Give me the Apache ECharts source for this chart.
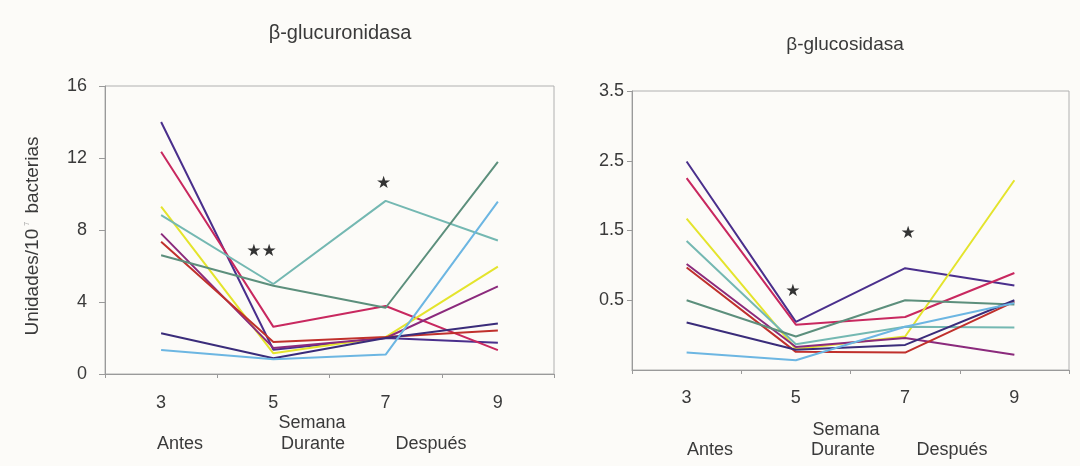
<!DOCTYPE html>
<html>
<head>
<meta charset="utf-8">
<script src="https://cdn.jsdelivr.net/npm/echarts@6/dist/echarts.min.js"></script>
<style>
  html, body { margin: 0; padding: 0; background: #fcfbf8; }
  #chart { width: 1080px; height: 466px; }
</style>
</head>
<body>
<div id="chart"></div>
<script>
// ---- data ----
const categories = ['3', '5', '7', '9'];
const leftTitle = 'β-glucuronidasa';
const rightTitle = 'β-glucosidasa';
const leftYTicks = [0, 4, 8, 12, 16];
const rightYTicks = [0.5, 1.5, 2.5, 3.5];

// β-glucuronidasa (left panel), one array per subject
const gucA = [14.0, 1.35, 2.0, 1.74];
const gucB = [12.35, 2.62, 3.78, 1.33];
const gucC = [9.3, 1.15, 2.05, 5.96];
const gucD = [8.83, 5.0, 9.62, 7.42];
const gucE = [7.8, 1.45, 2.0, 4.87];
const gucF = [7.35, 1.78, 2.05, 2.42];
const gucG = [6.6, 4.9, 3.68, 11.78];
const gucH = [2.26, 0.87, 2.0, 2.8];
const gucI = [1.33, 0.82, 1.08, 9.58];

// β-glucosidasa (right panel)
const glsA = [2.49, 0.19, 0.96, 0.71];
const glsB = [2.25, 0.15, 0.26, 0.89];
const glsC = [1.67, -0.2, -0.02, 2.22];
const glsD = [1.35, -0.13, 0.12, 0.11];
const glsE = [1.02, -0.17, -0.04, -0.28];
const glsF = [0.97, -0.24, -0.25, 0.48];
const glsG = [0.5, -0.02, 0.5, 0.44];
const glsH = [0.18, -0.21, -0.14, 0.5];
const glsI = [-0.25, -0.36, 0.12, 0.46];

// significance marks [category, value, text]
const starsLeft = [['5', 6.78, '★★'], ['7', 10.56, '★']];
const starsRight = [['5', 0.62, '★'], ['7', 1.46, '★']];

const leftSeries = [gucA, gucB, gucC, gucD, gucE, gucF, gucG, gucH, gucI];
const rightSeries = [glsA, glsB, glsC, glsD, glsE, glsF, glsG, glsH, glsI];

// ---- styles ----
const colors = ['#4a2f8c', '#c8285f', '#e4e42c', '#74b8b2', '#8b2a7c', '#c0302c', '#5c8f7c', '#3a2c7a', '#6cb6e2'];
const FONT = '"Liberation Sans", Arial, sans-serif';
const TXT = '#3a3a3a';
const AX = '#9a9a9a';

function makeSeries(arrs, idx, stars, starOffsets) {
  return arrs.map((d, i) => {
    const s = {
      type: 'line',
      xAxisIndex: idx,
      yAxisIndex: idx,
      data: d,
      symbol: 'none',
      color: colors[i],
      lineStyle: { width: 2, color: colors[i] },
      z: 2,
      silent: true
    };
    if (i === 0) {
      s.markPoint = {
        silent: true,
        symbol: 'circle',
        symbolSize: 1,
        itemStyle: { color: 'rgba(0,0,0,0)' },
        data: stars.map((st, k) => ({
          coord: [st[0], st[1]],
          label: {
            show: true,
            formatter: st[2],
            color: '#333',
            fontSize: 17,
            fontFamily: 'DejaVu Sans',
            position: 'inside',
            offset: starOffsets[k]
          }
        }))
      };
    }
    return s;
  });
}

function xAxisCfg(gi) {
  return {
    type: 'category',
    gridIndex: gi,
    data: categories,
    boundaryGap: true,
    axisLine: { onZero: false, lineStyle: { color: AX, width: 1 } },
    axisTick: { show: true, length: 4, lineStyle: { color: AX } },
    axisLabel: { color: TXT, fontSize: 18, fontFamily: FONT, margin: gi === 0 ? 20 : 19 }
  };
}

const chart = echarts.init(document.getElementById('chart'), null, { renderer: 'canvas' });

const T = (x, y, text, size) => ({
  type: 'text', x: x, y: y,
  style: { text: text, fill: TXT, font: size + 'px ' + FONT, textAlign: 'center', textVerticalAlign: 'middle' }
});

const option = {
  backgroundColor: '#fcfbf8',
  animation: false,
  grid: [
    { left: 105, top: 86, width: 449, height: 288, show: true, borderColor: '#b0b0b0', borderWidth: 1, backgroundColor: 'transparent' },
    { left: 632, top: 91, width: 437, height: 279, show: true, borderColor: '#b0b0b0', borderWidth: 1, backgroundColor: 'transparent' }
  ],
  xAxis: [xAxisCfg(0), xAxisCfg(1)],
  yAxis: [
    {
      type: 'value', gridIndex: 0, min: leftYTicks[0], max: leftYTicks[leftYTicks.length - 1], interval: 4,
      splitLine: { show: false },
      axisLine: { show: true, onZero: false, lineStyle: { color: AX } },
      axisTick: { show: true, length: 6, lineStyle: { color: AX } },
      axisLabel: { color: TXT, fontSize: 18, fontFamily: FONT, margin: 18 }
    },
    {
      type: 'value', gridIndex: 1, min: -0.5, max: 3.5,
      splitLine: { show: false },
      axisLine: { show: true, onZero: false, lineStyle: { color: AX } },
      axisTick: { show: true, length: 5, lineStyle: { color: AX }, customValues: rightYTicks },
      axisLabel: { color: TXT, fontSize: 18, fontFamily: FONT, margin: 8, customValues: rightYTicks }
    }
  ],
  series: [
    ...makeSeries(leftSeries, 0, starsLeft, [[-12, 0], [-2, 0]]),
    ...makeSeries(rightSeries, 1, starsRight, [[-3, 0], [3, 0]])
  ],
  graphic: [
    T(340, 33, leftTitle, 20),
    T(845, 45, rightTitle, 19),
    {
      type: 'text', x: 33, y: 236, rotation: Math.PI / 2,
      style: {
        text: 'Unidades/10{sup|7} bacterias',
        fill: TXT, font: '19px ' + FONT, textAlign: 'center', textVerticalAlign: 'middle',
        rich: { sup: { fontSize: 7, fill: '#999', verticalAlign: 'top', padding: [0, 3, 9, 3] } }
      }
    },
    T(312, 423, 'Semana', 18),
    T(180, 444, 'Antes', 18),
    T(313, 444, 'Durante', 18),
    T(431, 444, 'Después', 18),
    T(846, 430, 'Semana', 18),
    T(710, 450, 'Antes', 18),
    T(843, 450, 'Durante', 18),
    T(952, 450, 'Después', 18)
  ]
};

chart.setOption(option);
</script>
</body>
</html>
